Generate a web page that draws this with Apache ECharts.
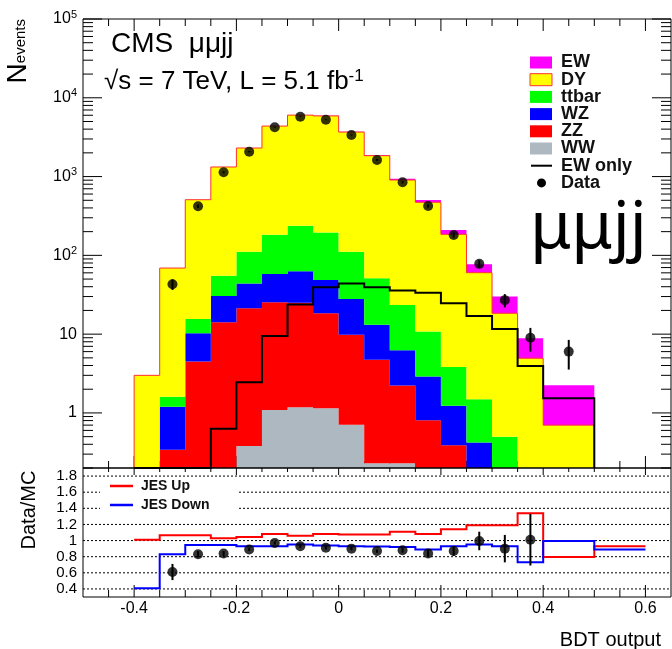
<!DOCTYPE html>
<html>
<head>
<meta charset="utf-8">
<script src="https://cdn.jsdelivr.net/npm/echarts@6/dist/echarts.min.js"></script>
<style>
html, body { margin: 0; padding: 0; background: #fff; }
#chart { width: 672px; height: 649px; }
</style>
</head>
<body>
<div id="chart"></div>
<script>
// bin edges of the BDT output histogram (last bin is 0.1 wide)
const binEdges = [-0.4, -0.35, -0.3, -0.25, -0.2, -0.15, -0.1, -0.05, 0, 0.05, 0.1, 0.15, 0.2, 0.25, 0.3, 0.35, 0.4, 0.5];
const binCenters = [-0.375, -0.325, -0.275, -0.225, -0.175, -0.125, -0.075, -0.025, 0.025, 0.075, 0.125, 0.175, 0.225, 0.275, 0.325, 0.375, 0.45];

// stacked backgrounds + signal, per bin
const ww    = [0, 0, 0, 0, 0.38, 1.09, 1.18, 1.15, 0.71, 0.23, 0.23, 0, 0, 0, 0, 0, 0];
const zz    = [0, 0.34, 4.5, 14.2, 20.9, 24.3, 23.8, 17.3, 9.1, 4.5, 2.0, 0.81, 0.39, 0.12, 0.05, 0.02, 0];
const wz    = [0, 0.86, 5.8, 16.3, 22.7, 32.6, 38, 30.3, 18.2, 8.4, 4.0, 2.1, 0.84, 0.3, 0.1, 0.03, 0];
const ttbar = [0, 0.4, 5.3, 24.5, 67, 125, 175, 147, 83, 38, 17.2, 7.9, 2.6, 1.07, 0.35, 0.1, 0.05];
const dy    = [3.0, 67.4, 493, 1269, 2193, 4193, 5789, 5695, 3560, 1790, 881, 461, 181, 58.8, 17.9, 4.8, 0.65];
const ew    = [0, 0, 0, 0.63, 2.45, 9.5, 23.7, 39.4, 44, 39.4, 35.7, 33.6, 24.7, 17.0, 11.6, 3.95, 1.54];

// data
const dataCounts = [null, 43, 420, 1135, 2070, 4226, 5755, 5275, 3373, 1625, 846, 424, 181, 78, 27, 9, 6];
const dataErr    = [null, 6.6, 20.5, 33.7, 45.5, 65, 75.9, 72.6, 58.1, 40.3, 29.1, 20.6, 13.5, 8.8, 5.2, 3.0, 2.45];

// ratio panel
const ratioVals = [null, 0.61, 0.83, 0.84, 0.89, 0.97, 0.93, 0.91, 0.90, 0.87, 0.88, 0.84, 0.87, 0.995, 0.90, 1.01, null];
const ratioErr  = [null, 0.1, 0.04, 0.03, 0.02, 0.02, 0.02, 0.02, 0.02, 0.02, 0.03, 0.04, 0.06, 0.115, 0.17, 0.32, null];
const jesEdges = [-0.4, -0.35, -0.3, -0.25, -0.2, -0.15, -0.1, -0.05, 0, 0.05, 0.1, 0.15, 0.2, 0.25, 0.3, 0.35, 0.4, 0.5, 0.6];
const jesUp   = [1.01, 1.066, 1.066, 1.03, 1.045, 1.08, 1.06, 1.08, 1.075, 1.075, 1.11, 1.08, 1.14, 1.19, 1.19, 1.34, 0.795, 0.93];
const jesDown = [0.41, 0.83, 0.945, 0.945, 0.93, 0.93, 0.95, 0.94, 0.93, 0.925, 0.92, 0.89, 0.93, 0.95, 0.93, 0.73, 0.995, 0.89];

// axis ranges
const X_MIN = -0.5, X_MAX = 0.65;
const Y_MIN = 0.2, Y_MAX = 1e5;
const R_MIN = 0.3, R_MAX = 1.9;
const ratioLines = [0.4, 0.6, 0.8, 1.0, 1.2, 1.4, 1.6, 1.8];

const FONT = '"Liberation Sans", Arial, Helvetica, sans-serif';

const chart = echarts.init(document.getElementById('chart'));

// cumulative stack, bottom to top
const layers = [
  { name: 'WW', values: ww, color: '#adb8c1' },
  { name: 'ZZ', values: zz, color: '#ff0000' },
  { name: 'WZ', values: wz, color: '#0000ff' },
  { name: 'ttbar', values: ttbar, color: '#00ff00' },
  { name: 'DY', values: dy, color: '#ffff00' },
  { name: 'EW', values: ew, color: '#ff00ff' }
];
let cum = binEdges.slice(1).map(() => 0);
let dyTop = null;
layers.forEach(l => {
  l.lower = cum.slice();
  cum = cum.map((c, i) => c + l.values[i]);
  l.upper = cum.slice();
  if (l.name === 'DY') dyTop = cum.slice();
});

function clampY(v) { return Math.max(v, Y_MIN); }

// polygon of one stack layer
function layerSeries(l) {
  return {
    type: 'custom', name: l.name, xAxisIndex: 0, yAxisIndex: 0, z: 3,
    data: [[0, 1]], encode: { x: 0, y: 1 }, silent: true,
    renderItem: function (params, api) {
      const pts = [];
      for (let i = 0; i < l.upper.length; i++) {
        pts.push(api.coord([binEdges[i], clampY(l.upper[i])]));
        pts.push(api.coord([binEdges[i + 1], clampY(l.upper[i])]));
      }
      for (let i = l.lower.length - 1; i >= 0; i--) {
        pts.push(api.coord([binEdges[i + 1], clampY(l.lower[i])]));
        pts.push(api.coord([binEdges[i], clampY(l.lower[i])]));
      }
      return { type: 'polygon', shape: { points: pts }, style: { fill: l.color, stroke: null } };
    }
  };
}

// step outline; closed=true drops to the axis minimum at both ends
function stepSeries(edges, vals, color, width, xi, yi, floor, closed, z) {
  return {
    type: 'custom', xAxisIndex: xi, yAxisIndex: yi, z: z,
    data: [[0, 1]], encode: { x: 0, y: 1 }, silent: true,
    renderItem: function (params, api) {
      const pts = [];
      if (closed) pts.push(api.coord([edges[0], floor]));
      for (let i = 0; i < vals.length; i++) {
        const v = Math.max(vals[i], floor);
        pts.push(api.coord([edges[i], v]));
        pts.push(api.coord([edges[i + 1], v]));
      }
      if (closed) pts.push(api.coord([edges[edges.length - 1], floor]));
      return { type: 'polyline', shape: { points: pts }, style: { stroke: color, lineWidth: width, fill: null } };
    }
  };
}

function errorSeries(xs, vals, errs, xi, yi, floor) {
  const items = [];
  xs.forEach((x, i) => {
    if (vals[i] == null) return;
    items.push([x, Math.max(vals[i] - errs[i], floor), vals[i] + errs[i]]);
  });
  return {
    type: 'custom', xAxisIndex: xi, yAxisIndex: yi, z: 6, silent: true,
    data: items, encode: { x: 0, y: [1, 2] },
    renderItem: function (params, api) {
      const a = api.coord([api.value(0), api.value(1)]);
      const b = api.coord([api.value(0), api.value(2)]);
      return { type: 'line', shape: { x1: a[0], y1: a[1], x2: b[0], y2: b[1] }, style: { stroke: '#000', lineWidth: 2 } };
    }
  };
}

function pointsOf(xs, vals) {
  const out = [];
  xs.forEach((x, i) => { if (vals[i] != null) out.push([x, vals[i]]); });
  return out;
}

// x tick positions every 0.05, majors every 0.2
const xTicks = [];
for (let k = -9; k <= 12; k++) xTicks.push(k * 0.05);
function isMajorX(v) { return Math.round(v * 100) % 20 === 0; }

function line(x1, y1, x2, y2, extra) {
  return Object.assign({ type: 'line', shape: { x1: x1, y1: y1, x2: x2, y2: y2 }, style: { stroke: '#000', lineWidth: 1 } }, extra || {});
}

// frame ticks of the upper panel
const decorTop = {
  type: 'custom', xAxisIndex: 0, yAxisIndex: 0, z: 1, silent: true,
  data: [[0, 1]], encode: { x: 0, y: 1 },
  renderItem: function (params, api) {
    const ch = [];
    const xl = api.coord([X_MIN, 1])[0], xr = api.coord([X_MAX, 1])[0];
    const yt = api.coord([0, Y_MAX])[1], yb = api.coord([0, Y_MIN])[1];
    for (let e = -1; e <= 5; e++) {
      for (let m = 1; m <= 9; m++) {
        const v = m * Math.pow(10, e);
        if (v < Y_MIN || v > Y_MAX) continue;
        const y = api.coord([0, v])[1];
        const len = m === 1 ? 19 : 10;
        ch.push(line(xl, y, xl + len, y));
        ch.push(line(xr - len, y, xr, y));
      }
    }
    xTicks.forEach(t => {
      const x = api.coord([t, 1])[0];
      const len = isMajorX(t) ? 12 : 7;
      ch.push(line(x, yt, x, yt + len));
      ch.push(line(x, yb, x, yb - len));
    });
    return { type: 'group', children: ch };
  }
};

// frame ticks and dotted lines of the ratio panel
const decorBottom = {
  type: 'custom', xAxisIndex: 1, yAxisIndex: 1, z: 1, silent: true,
  data: [[0, 1]], encode: { x: 0, y: 1 },
  renderItem: function (params, api) {
    const ch = [];
    const xl = api.coord([X_MIN, 1])[0], xr = api.coord([X_MAX, 1])[0];
    const yt = api.coord([0, R_MAX])[1], yb = api.coord([0, R_MIN])[1];
    ratioLines.forEach(r => {
      const y = api.coord([0, r])[1];
      ch.push(line(xl, y, xr, y, { style: { stroke: '#000', lineWidth: 1, lineDash: [2, 2] } }));
    });
    xTicks.forEach(t => {
      const x = api.coord([t, 1])[0];
      ch.push(line(x, yt, x, yt + (isMajorX(t) ? 7 : 4)));
      ch.push(line(x, yb, x, yb - (isMajorX(t) ? 12 : 7)));
    });
    return { type: 'group', children: ch };
  }
};

function logLabel(v) {
  const e = Math.round(Math.log10(v));
  if (Math.abs(v - Math.pow(10, e)) / v > 0.01) return '';
  if (e === 0) return '1';
  if (e === 1) return '10';
  return '{b|10}{s|' + e + '}';
}

const series = [decorTop, decorBottom];
layers.forEach(l => series.push(layerSeries(l)));
series.push(stepSeries(binEdges, dyTop, '#ff3030', 1, 0, 0, Y_MIN, true, 4));
series.push(stepSeries(binEdges, ew, '#000000', 2, 0, 0, Y_MIN, true, 5));
series.push(errorSeries(binCenters, dataCounts, dataErr, 0, 0, Y_MIN));
series.push({
  type: 'scatter', xAxisIndex: 0, yAxisIndex: 0, z: 7, silent: true,
  data: pointsOf(binCenters, dataCounts), symbol: 'circle', symbolSize: 10,
  itemStyle: { color: '#000' }
});
series.push(stepSeries(jesEdges, jesUp, '#ff0000', 2, 1, 1, R_MIN, false, 4));
series.push(stepSeries(jesEdges, jesDown, '#0000ff', 2, 1, 1, R_MIN, false, 4));
series.push(errorSeries(binCenters, ratioVals, ratioErr, 1, 1, R_MIN));
series.push({
  type: 'scatter', xAxisIndex: 1, yAxisIndex: 1, z: 7, silent: true,
  data: pointsOf(binCenters, ratioVals), symbol: 'circle', symbolSize: 10,
  itemStyle: { color: '#000' }
});

// legend of the upper panel
const legendRows = [
  { label: 'EW', kind: 'box', color: '#ff00ff' },
  { label: 'DY', kind: 'box', color: '#ffff00', border: '#ff3030' },
  { label: 'ttbar', kind: 'box', color: '#00ff00' },
  { label: 'WZ', kind: 'box', color: '#0000ff' },
  { label: 'ZZ', kind: 'box', color: '#ff0000' },
  { label: 'WW', kind: 'box', color: '#adb8c1' },
  { label: 'EW only', kind: 'line', color: '#000' },
  { label: 'Data', kind: 'dot', color: '#000' }
];
const graphics = [];
legendRows.forEach((r, i) => {
  const y = 62.5 + i * 17.2;
  if (r.kind === 'box') {
    graphics.push({ type: 'rect', z: 100, shape: { x: 530, y: y - 6, width: 22, height: 12 },
      style: { fill: r.color, stroke: r.border || null, lineWidth: 1 } });
  } else if (r.kind === 'line') {
    graphics.push({ type: 'line', z: 100, shape: { x1: 531, y1: y, x2: 552, y2: y }, style: { stroke: '#000', lineWidth: 2 } });
  } else {
    graphics.push({ type: 'circle', z: 100, shape: { cx: 541.5, cy: y, r: 4.5 }, style: { fill: '#000' } });
  }
  graphics.push({ type: 'text', z: 100, x: 561, y: y,
    style: { text: r.label, font: 'bold 18px ' + FONT, fill: '#111', verticalAlign: 'middle', align: 'left' } });
});

// legend of the ratio panel
graphics.push({ type: 'rect', z: 100, shape: { x: 100, y: 479, width: 138, height: 38 }, style: { fill: '#fff' } });
graphics.push({ type: 'line', z: 101, shape: { x1: 110, y1: 486, x2: 133, y2: 486 }, style: { stroke: '#ff0000', lineWidth: 2.5 } });
graphics.push({ type: 'text', z: 101, x: 141, y: 486, style: { text: 'JES Up', font: 'bold 14px ' + FONT, fill: '#111', verticalAlign: 'middle' } });
graphics.push({ type: 'line', z: 101, shape: { x1: 110, y1: 505, x2: 133, y2: 505 }, style: { stroke: '#0000ff', lineWidth: 2.5 } });
graphics.push({ type: 'text', z: 101, x: 141, y: 505, style: { text: 'JES Down', font: 'bold 14px ' + FONT, fill: '#111', verticalAlign: 'middle' } });

// titles and axis names
graphics.push({ type: 'text', z: 100, x: 111, y: 44,
  style: { text: 'CMS  μμjj', font: '28px ' + FONT, fill: '#000', verticalAlign: 'middle' } });
graphics.push({ type: 'text', z: 100, x: 104, y: 82,
  style: { text: '{t|√s = 7 TeV, L = 5.1 fb}{s|-1}', verticalAlign: 'middle', fill: '#000',
    rich: { t: { font: '26px ' + FONT, fill: '#000' }, s: { font: '17px ' + FONT, fill: '#000', padding: [0, 0, 12, 0] } } } });
graphics.push({ type: 'text', z: 100, x: 530, y: 229,
  style: { text: 'μμjj', font: '66px "Noto Sans", "Open Sans", sans-serif', fill: '#000', verticalAlign: 'middle' } });
graphics.push({ type: 'text', z: 100, x: 37, y: 19, rotation: Math.PI / 2,
  style: { text: '{n|N}{e|events}', align: 'right', verticalAlign: 'bottom',
    rich: { n: { font: '28px ' + FONT, fill: '#000', padding: [0, 0, 5, 0] }, e: { font: '15px ' + FONT, fill: '#000' } } } });
graphics.push({ type: 'text', z: 100, x: 29, y: 510, rotation: Math.PI / 2,
  style: { text: 'Data/MC', font: '20px ' + FONT, fill: '#000', align: 'center', verticalAlign: 'middle' } });
graphics.push({ type: 'text', z: 100, x: 661, y: 640,
  style: { text: 'BDT output', font: '20px ' + FONT, fill: '#000', align: 'right', verticalAlign: 'middle' } });

chart.setOption({
  animation: false,
  backgroundColor: '#fff',
  grid: [
    { left: 83, top: 19, width: 588, height: 449, show: true, z: 10, backgroundColor: 'transparent', borderColor: '#000', borderWidth: 1, outerBoundsMode: 'none' },
    { left: 83, top: 468, width: 588, height: 129, show: true, z: 10, backgroundColor: 'transparent', borderColor: '#000', borderWidth: 1, outerBoundsMode: 'none' }
  ],
  xAxis: [
    { type: 'value', gridIndex: 0, min: X_MIN, max: X_MAX, interval: 0.05,
      axisLine: { show: false }, axisTick: { show: false }, axisLabel: { show: false }, splitLine: { show: false } },
    { type: 'value', gridIndex: 1, min: X_MIN, max: X_MAX, interval: 0.05,
      axisLine: { show: false }, axisTick: { show: false }, splitLine: { show: false },
      axisLabel: { fontFamily: FONT, fontSize: 16, color: '#000', margin: 4,
        formatter: function (v) {
          const r = Math.round(v * 100);
          if (r % 20 !== 0) return '';
          return r === 0 ? '0' : (r / 100).toFixed(1);
        } } }
  ],
  yAxis: [
    { type: 'log', logBase: 10, gridIndex: 0, min: Y_MIN, max: Y_MAX,
      axisLine: { show: false }, axisTick: { show: false }, splitLine: { show: false },
      axisLabel: { fontFamily: FONT, fontSize: 16, color: '#000', margin: 6, formatter: logLabel,
        rich: { b: { fontFamily: FONT, fontSize: 16, color: '#000' }, s: { fontFamily: FONT, fontSize: 11, color: '#000', padding: [0, 0, 9, 0] } } } },
    { type: 'value', gridIndex: 1, min: R_MIN, max: R_MAX, interval: 0.1,
      axisLine: { show: false }, axisTick: { show: false }, splitLine: { show: false },
      axisLabel: { fontFamily: FONT, fontSize: 15, color: '#000', margin: 6,
        formatter: function (v) {
          const r = Math.round(v * 10);
          if (r % 2 !== 0 || r < 4 || r > 18) return '';
          return r === 10 ? '1' : (r / 10).toFixed(1);
        } } }
  ],
  graphic: graphics,
  series: series
});
</script>
</body>
</html>
